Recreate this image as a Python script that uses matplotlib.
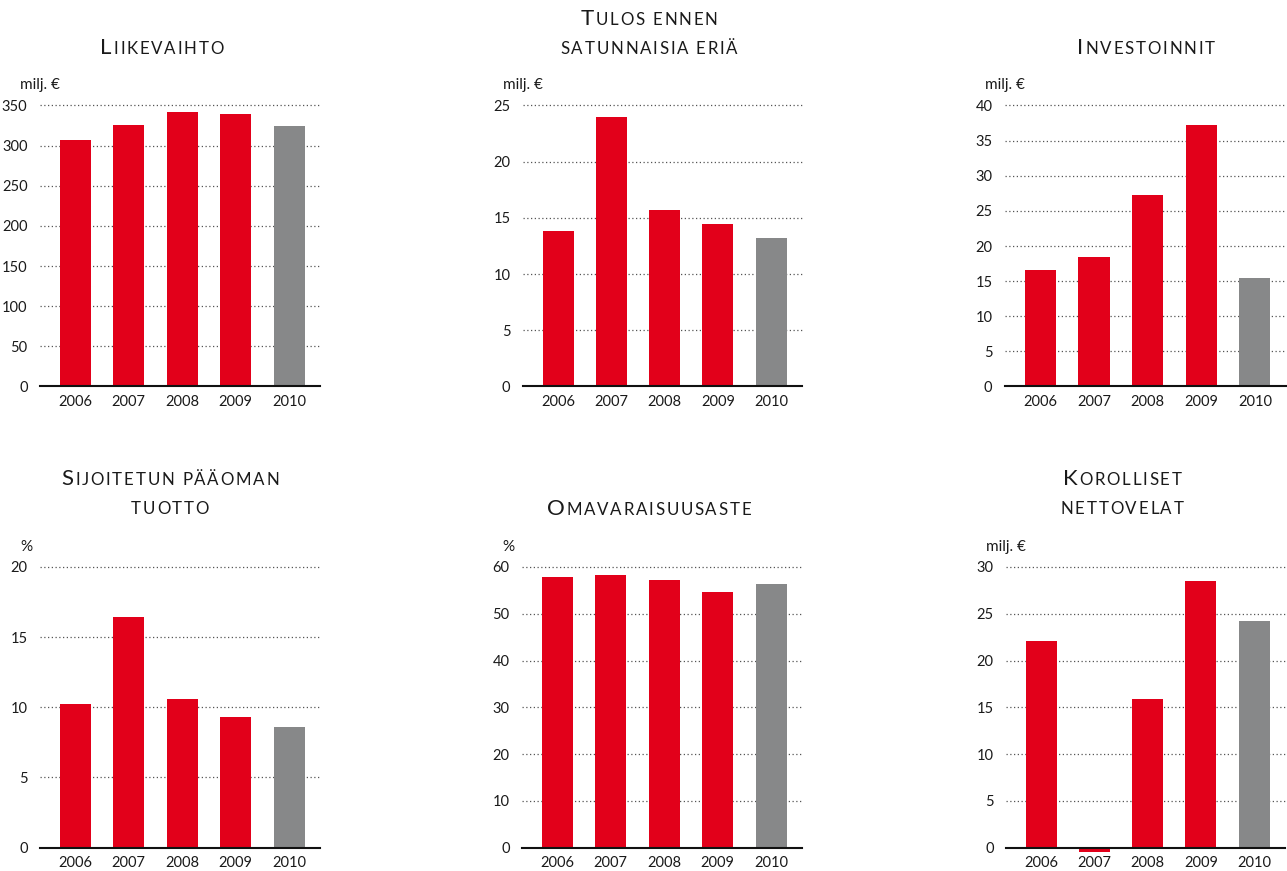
import numpy as np
import matplotlib
matplotlib.use('Agg')
import matplotlib.pyplot as plt
from matplotlib.offsetbox import TextArea, HPacker, VPacker, AnnotationBbox

plt.rcParams['font.family'] = ['Lato', 'DejaVu Sans']

W, H = 1287, 871

years = ['2006', '2007', '2008', '2009', '2010']

liikevaihto = [307.6, 326.3, 342.5, 340.0, 325.0]
tulos = [13.8, 24.0, 15.7, 14.5, 13.2]
investoinnit = [16.6, 18.4, 27.2, 37.2, 15.5]
sijoitetun = [10.2, 16.4, 10.6, 9.3, 8.6]
omavaraisuus = [57.9, 58.3, 57.2, 54.6, 56.4]
korolliset = [22.1, -0.5, 15.9, 28.5, 24.2]

RED = '#e2001a'
GREY = '#878889'
TXT = '#1a1a1a'

# (title lines, unit, values, ymax, step, axes rect in px [left, top, width, height], title center px)
panels = [
    (['Liikevaihto'], 'milj. €', liikevaihto, 350, 50, [40, 105.5, 280, 281], (162, 48)),
    (['Tulos ennen', 'satunnaisia eriä'], 'milj. €', tulos, 25, 5, [523, 105.5, 279, 281], (649, 33)),
    (['Investoinnit'], 'milj. €', investoinnit, 40, 5, [1005, 105.5, 281, 281], (1146, 48)),
    (['Sijoitetun pääoman', 'tuotto'], '%', sijoitetun, 20, 5, [40, 567, 280, 280.5], (170, 493)),
    (['Omavaraisuusaste'], '%', omavaraisuus, 60, 10, [522, 567, 280, 280.5], (649, 509)),
    (['Korolliset', 'nettovelat'], 'milj. €', korolliset, 30, 5, [1006, 567, 279, 280.5], (1122, 493)),
]


def px_rect(r):
    left, top, w, h = r
    return [left / W, 1 - (top + h) / H, w / W, h / H]


def smallcaps_title(fig, lines, center):
    big = dict(fontsize=16, color=TXT)
    small = dict(fontsize=12.2, color=TXT)
    rows = []
    for i, line in enumerate(lines):
        # each letter its own box so that the title gets the wide tracking
        chars = []
        for j, ch in enumerate(line):
            if i == 0 and j == 0:
                chars.append(TextArea(ch, textprops=big))
            else:
                chars.append(TextArea(ch.upper(), textprops=small))
        rows.append(HPacker(children=chars, align='baseline', pad=0, sep=1.3))
    box = VPacker(children=rows, align='center', pad=0, sep=8)
    ab = AnnotationBbox(box, (center[0] / W, 1 - center[1] / H), xycoords='figure fraction',
                        frameon=False, box_alignment=(0.5, 0.5), pad=0)
    fig.add_artist(ab)


fig = plt.figure(figsize=(W / 100, H / 100), dpi=100)

for lines, unit, vals, ymax, step, rect, tcenter in panels:
    ax = fig.add_axes(px_rect(rect))
    x = np.arange(len(years))
    colors = [RED] * (len(years) - 1) + [GREY]
    bars = ax.bar(x, vals, width=0.58, color=colors, zorder=2)
    for b in bars:
        b.set_clip_on(False)
    ax.set_xlim(-0.66, 4.58)
    ax.set_ylim(0, ymax)
    ticks = np.arange(0, ymax + 0.01, step)
    ax.set_yticks(ticks)
    ax.set_yticklabels([f'{int(t)}' for t in ticks])
    for t in ticks[1:]:
        ax.axhline(t, color='#555555', lw=0.9, ls=(0, (1, 2)), clip_on=False, zorder=1)
    ax.set_xticks(x)
    ax.set_xticklabels(years)
    for s in ['left', 'right', 'top']:
        ax.spines[s].set_visible(False)
    ax.spines['bottom'].set_linewidth(1.5)
    ax.spines['bottom'].set_color('#111111')
    ax.spines['bottom'].set_zorder(3)
    ax.tick_params(axis='y', length=0, pad=9, labelsize=10.5, labelcolor=TXT)
    ax.tick_params(axis='x', length=0, pad=6, labelsize=10.5, labelcolor=TXT)
    ax.patch.set_visible(False)

    fig.text((rect[0] - 20) / W, 1 - (rect[1] - 16) / H, unit, fontsize=11, color=TXT,
             ha='left', va='baseline')
    smallcaps_title(fig, lines, tcenter)

fig.savefig('out.png', dpi=100)
